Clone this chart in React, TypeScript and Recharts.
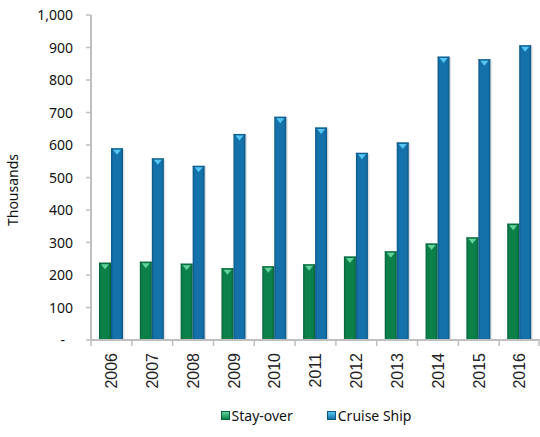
import { BarChart, Bar, XAxis, YAxis, Legend, Label } from "recharts";

const years = ["2006", "2007", "2008", "2009", "2010", "2011", "2012", "2013", "2014", "2015", "2016"];
const stayOver = [238, 241, 235, 221, 227, 233, 257, 273, 297, 316, 358];
const cruiseShip = [590, 559, 536, 634, 687, 654, 576, 608, 872, 864, 907];
const yTicks = [0, 100, 200, 300, 400, 500, 600, 700, 800, 900, 1000];
const seriesOrder = ["stay", "cruise"];

const data = years.map((year, i) => ({
  year,
  stay: stayOver[i],
  cruise: cruiseShip[i],
}));

const W = 540;
const H = 437;
const LEFT = 91;
const TOP = 15;
const BOTTOM = 340;
const BAND = (W - LEFT) / years.length;

const FONT = "'Noto Sans', sans-serif";

const COLORS = {
  stay: { main: "#0b8149", edge: "#06613a", tip: "#63d39b" },
  cruise: { main: "#1471aa", edge: "#0c5684", tip: "#55c6f2" },
};

function makeShape(key: "stay" | "cruise") {
  return (props: any) => {
    const { x, y, width, height } = props;
    if (!height || height <= 0) return <g />;
    const c = COLORS[key];
    const tipH = Math.min(5, height);
    return (
      <g>
        <rect x={x + 1.5} y={y + 1} width={width} height={height - 1} fill="#000" opacity={0.12} />
        <rect x={x} y={y} width={width} height={height} fill={`url(#grad-${key})`} />
        <rect x={x} y={y} width={width} height={1.2} fill={c.edge} opacity={0.6} />
        <polygon
          points={`${x + 2},${y + 1.5} ${x + width - 2},${y + 1.5} ${x + width / 2},${y + 1.5 + tipH}`}
          fill={c.tip}
        />
      </g>
    );
  };
}

const XTick = (props: any) => {
  const { x, y, payload, index } = props;
  const left = x - BAND / 2;
  return (
    <g>
      <line x1={left} y1={y} x2={left} y2={y + 6} stroke="#bfbfbf" strokeWidth={1.5} />
      {index === years.length - 1 && (
        <line x1={x + BAND / 2 - 1} y1={y} x2={x + BAND / 2 - 1} y2={y + 6} stroke="#bfbfbf" strokeWidth={1.5} />
      )}
      <text
        transform={`translate(${x},${y}) rotate(-90)`}
        x={-13}
        y={0}
        dy="0.36em"
        textAnchor="end"
        fontFamily="'Liberation Sans', Arial, sans-serif"
        fontSize={16}
        fill="#222"
      >
        {payload.value}
      </text>
    </g>
  );
};

const YTick = (props: any) => {
  const { x, y, payload } = props;
  const v = payload.value as number;
  const label = v === 0 ? "-" : v.toLocaleString("en-US");
  return (
    <text
      x={v === 0 ? x - 8 : x}
      y={y}
      dy="0.36em"
      textAnchor="end"
      fontFamily={FONT}
      fontSize={14}
      fill="#111"
    >
      {label}
    </text>
  );
};

const LegendContent = (props: any) => {
  const items = [...(props.payload || [])].sort(
    (a: any, b: any) => seriesOrder.indexOf(a.dataKey) - seriesOrder.indexOf(b.dataKey)
  );
  return (
    <div style={{ display: "flex", justifyContent: "center", fontFamily: FONT, fontSize: 14, color: "#111" }}>
      {items.map((p: any, i: number) => {
        const c = COLORS[p.dataKey as "stay" | "cruise"];
        return (
          <div key={p.value} style={{ display: "flex", alignItems: "center", marginLeft: i ? 34 : 0 }}>
            <span
              style={{
                display: "inline-block",
                width: 9,
                height: 9,
                background: `linear-gradient(to bottom, ${c.tip}, ${c.main})`,
                border: `1px solid ${c.edge}`,
                boxSizing: "border-box",
                marginRight: 2,
              }}
            />
            <span>{p.value}</span>
          </div>
        );
      })}
    </div>
  );
};

export default function App() {
  return (
    <div style={{ position: "absolute", left: 0, top: 0, width: W, height: H, background: "#fff" }}>
      <BarChart
        width={W}
        height={H}
        data={data}
        margin={{ top: TOP, right: 0, bottom: 0, left: 0 }}
        barCategoryGap={8}
        barGap={0}
      >
        <defs>
          {(["stay", "cruise"] as const).map((k) => (
            <linearGradient key={k} id={`grad-${k}`} x1="0" y1="0" x2="1" y2="0">
              <stop offset="0%" stopColor={COLORS[k].edge} />
              <stop offset="18%" stopColor={COLORS[k].main} />
              <stop offset="80%" stopColor={COLORS[k].main} />
              <stop offset="100%" stopColor={COLORS[k].edge} />
            </linearGradient>
          ))}
        </defs>
        <XAxis
          dataKey="year"
          height={H - BOTTOM}
          tickSize={0}
          tickMargin={0}
          tickLine={false}
          axisLine={{ stroke: "#bfbfbf", strokeWidth: 2 }}
          tick={<XTick />}
          interval={0}
        />
        <YAxis
          width={LEFT}
          domain={[0, 1000]}
          ticks={yTicks}
          interval={0}
          tickSize={5}
          tickMargin={13}
          tickLine={{ stroke: "#bfbfbf", strokeWidth: 1.5 }}
          axisLine={{ stroke: "#bfbfbf", strokeWidth: 2 }}
          tick={<YTick />}
        >
          <Label
            content={() => (
              <text
                transform="translate(18,190) rotate(-90)"
                textAnchor="middle"
                fontFamily={FONT}
                fontSize={14}
                fill="#111"
              >
                Thousands
              </text>
            )}
          />
        </YAxis>
        <Legend
          verticalAlign="middle"
          align="center"
          layout="horizontal"
          content={<LegendContent />}
          wrapperStyle={{ top: 406, left: 90, width: 452, height: 22, bottom: "auto" }}
        />
        <Bar dataKey="stay" name="Stay-over" fill={COLORS.stay.main} shape={makeShape("stay")} isAnimationActive={false} />
        <Bar dataKey="cruise" name="Cruise Ship" fill={COLORS.cruise.main} shape={makeShape("cruise")} isAnimationActive={false} />
      </BarChart>
    </div>
  );
}
